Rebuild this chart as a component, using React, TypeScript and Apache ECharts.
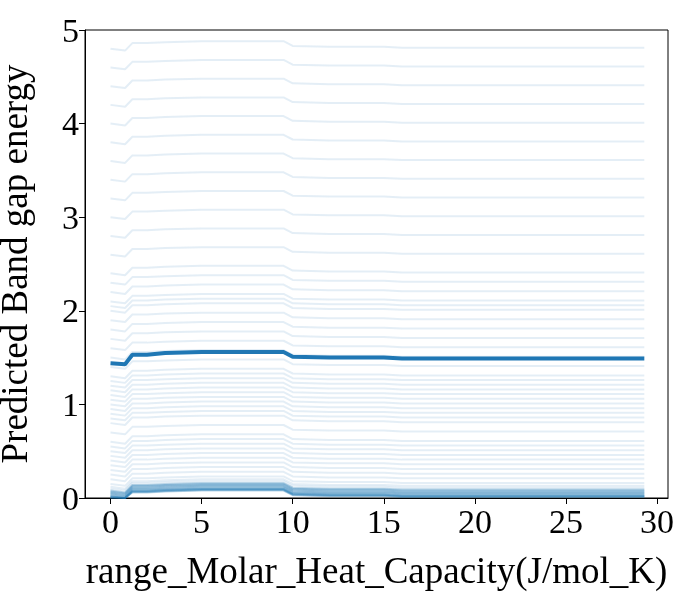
import { useEffect, useRef } from "react";
import * as echarts from "echarts";

// feature grid (x) used by every curve
const xGrid = [0, 0.8, 1.2, 2, 3, 5, 7, 9.5, 10, 12, 15, 16, 20, 25, 29.3];

// average curve (partial dependence)
const pdp = [1.44, 1.43, 1.53, 1.53, 1.55, 1.56, 1.56, 1.56, 1.51, 1.5, 1.5, 1.49, 1.49, 1.49, 1.49];

// individual curve levels
const iceLevels = [
  0.0, 0.005, 0.01, 0.015, 0.02, 0.03, 0.04, 0.05, 0.06, 0.07, 0.08, 0.1, 0.12, 0.15, 0.2, 0.25,
  0.3, 0.35, 0.4, 0.45, 0.5, 0.55, 0.6, 0.7, 0.8, 0.85, 0.9, 0.95, 1.0, 1.05, 1.1, 1.15, 1.2,
  1.25, 1.3, 1.4, 1.5, 1.6, 1.7, 1.8, 1.9, 2.0, 2.05, 2.1, 2.2, 2.3, 2.4, 2.6, 2.8, 3.0, 3.2,
  3.4, 3.6, 3.8, 4.0, 4.2, 4.4, 4.6, 4.8,
];

// shared small offsets seen on the individual curves
const iceShape = [0, -0.02, 0.06, 0.06, 0.07, 0.08, 0.08, 0.08, 0.03, 0.02, 0.02, 0.01, 0.01, 0.01, 0.01];

const xTicks = [0, 5, 10, 15, 20, 25, 30];
const font = "Liberation Serif";

export default function App() {
  const ref = useRef<HTMLDivElement | null>(null);

  useEffect(() => {
    const chart = echarts.init(ref.current!, null, { renderer: "svg" });
    const ice = iceLevels.map((lv) => ({
      type: "line",
      showSymbol: false,
      silent: true,
      data: xGrid.map((x, i) => [x, Math.max(0, lv + iceShape[i])]),
      lineStyle: { color: "#1f77b4", width: 2, opacity: lv < 0.1 ? 0.3 : 0.12 },
    }));
    chart.setOption({
      animation: false,
      grid: {
        left: 85, right: 32, top: 30, bottom: 102,
        outerBoundsMode: "none", containLabel: false,
        show: true, borderColor: "#000", borderWidth: 1,
      },
      xAxis: {
        type: "value",
        min: -1.4,
        max: 30.6,
        name: "range_Molar_Heat_Capacity(J/mol_K)",
        nameLocation: "middle",
        nameGap: 54,
        nameTextStyle: { fontFamily: font, fontSize: 37, color: "#000" },
        axisLine: { show: true, onZero: false, lineStyle: { color: "#000" } },
        axisTick: { show: true, inside: false, length: 6, lineStyle: { color: "#000" }, customValues: xTicks },
        axisLabel: { fontFamily: font, fontSize: 34, color: "#000", margin: 6, customValues: xTicks },
        splitLine: { show: false },
      },
      yAxis: {
        type: "value",
        min: 0,
        max: 5,
        interval: 1,
        name: "Predicted Band gap energy",
        nameLocation: "middle",
        nameGap: 52,
        nameTextStyle: { fontFamily: font, fontSize: 37, color: "#000" },
        axisLine: { show: true, onZero: false, lineStyle: { color: "#000" } },
        axisTick: { show: true, length: 6, lineStyle: { color: "#000" } },
        axisLabel: { fontFamily: font, fontSize: 34, color: "#000", margin: 6 },
        splitLine: { show: false },
      },
      series: [
        ...ice,
        {
          type: "line",
          showSymbol: false,
          data: xGrid.map((x, i) => [x, pdp[i]]),
          lineStyle: { color: "#1f77b4", width: 4 },
          z: 10,
        },
      ],
    });
    return () => chart.dispose();
  }, []);

  return <div ref={ref} style={{ position: "fixed", left: 0, top: 0, width: 700, height: 600 }} />;
}
